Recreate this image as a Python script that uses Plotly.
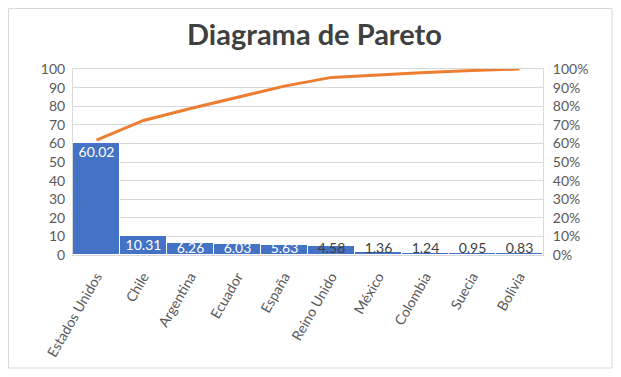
import plotly.graph_objects as go

categories = ["Estados Unidos", "Chile", "Argentina", "Ecuador", "España",
              "Reino Unido", "México", "Colombia", "Suecia", "Bolivia"]
values = [60.02, 10.31, 6.26, 6.03, 5.63, 4.58, 1.36, 1.24, 0.95, 0.83]
y_ticks = [0, 10, 20, 30, 40, 50, 60, 70, 80, 90, 100]

total = sum(values)
cum = []
s = 0
for v in values:
    s += v
    cum.append(s / total)

FONT = "Lato, Open Sans, sans-serif"
GREY = "#595959"
GRID = "#D9D9D9"

label_y = [max(v - 5.6, 3.2) for v in values]
label_col = ["white" if v >= 5 else "#404040" for v in values]

W, H = 613, 369          # page has an 8px body margin
PL, PR, PT, PB = 65, 535, 61, 247
PW, PH = PR - PL, PB - PT

fig = go.Figure()
fig.add_trace(go.Bar(
    x=categories, y=values, marker=dict(color="#4472C4", line=dict(color="white", width=1)),
    width=1, showlegend=False, hoverinfo="skip"))
fig.add_trace(go.Scatter(
    x=categories, y=label_y, mode="text", text=[f"{v:.2f}" for v in values],
    textposition="middle center", textfont=dict(family=FONT, size=14, color=label_col),
    showlegend=False, hoverinfo="skip", cliponaxis=False))
fig.add_trace(go.Scatter(
    x=categories, y=cum, mode="lines", yaxis="y2",
    line=dict(color="#ED7D31", width=3), showlegend=False))

fig.update_layout(
    width=W, height=H,
    margin=dict(l=PL, r=W - PR, t=PT, b=H - PB, autoexpand=False),
    paper_bgcolor="white", plot_bgcolor="white",
    title=dict(text="<b>Diagrama de Pareto</b>", x=0.5, xanchor="center", y=1 - 27 / H, yanchor="middle",
               font=dict(family=FONT, size=29, color="#404040"), automargin=False),
    xaxis=dict(tickangle=-60, tickfont=dict(family=FONT, size=14, color=GREY),
               showline=True, linecolor=GRID, mirror=True, showgrid=False,
               ticks="outside", ticklen=7, tickcolor="rgba(0,0,0,0)",
               range=[-0.5, 9.5], automargin=False),
    yaxis=dict(range=[0, 100], tickvals=y_ticks, tickfont=dict(family=FONT, size=14, color=GREY),
               showgrid=True, gridcolor=GRID, showline=True, linecolor=GRID, mirror=True,
               zeroline=False, ticks="outside", ticklen=4, tickcolor="rgba(0,0,0,0)", automargin=False),
    yaxis2=dict(range=[0, 1], overlaying="y", side="right", tickformat=".0%", dtick=0.1,
                tickfont=dict(family=FONT, size=14, color=GREY), showgrid=False,
                zeroline=False, ticks="outside", ticklen=6, tickcolor="rgba(0,0,0,0)", automargin=False),
    bargap=0,
    shapes=[dict(type="rect", xref="paper", yref="paper",
                 x0=(0.5 - PL) / PW, x1=(604 - PL) / PW,
                 y0=-(360 - PB) / PH, y1=(PB - 0.5) / PH,
                 line=dict(color="#D9D9D9", width=1), fillcolor="rgba(0,0,0,0)", layer="below")],
)

fig.write_html("out.html")
